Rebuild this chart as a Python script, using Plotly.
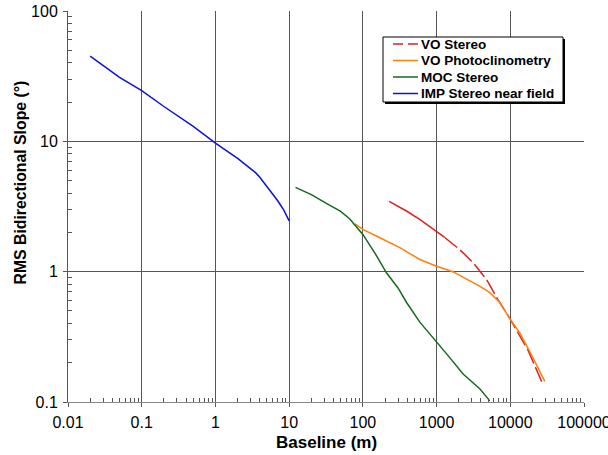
import plotly.graph_objects as go

# IMP Stereo near field
imp_x = [0.02, 0.05, 0.1, 0.2, 0.5, 1, 2, 3, 3.5, 4, 4.5, 5, 5.5, 6, 7, 8.5, 10]
imp_y = [45, 31, 24.5, 18.5, 13, 9.7, 7.4, 6.2, 5.75, 5.3, 4.85, 4.45, 4.12, 3.85, 3.5, 2.95, 2.45]

# MOC Stereo
moc_x = [12.2, 20, 32, 50, 66, 100, 150, 209, 300, 392, 593, 1000, 1500, 2290, 3880, 5270]
moc_y = [4.43, 3.9, 3.34, 2.9, 2.55, 1.93, 1.35, 0.98, 0.75, 0.58, 0.41, 0.29, 0.22, 0.164, 0.126, 0.102]

# VO Photoclinometry
vop_x = [78, 100, 170, 317, 593, 1000, 1660, 3880, 5270, 7200, 10000, 13400, 19400, 29400]
vop_y = [2.33, 2.11, 1.82, 1.53, 1.24, 1.1, 1.0, 0.77, 0.69, 0.58, 0.43, 0.34, 0.23, 0.144]

# VO Stereo (solid first part, then dashed)
vos_solid_x = [227, 390, 590, 1000, 1290]
vos_solid_y = [3.46, 2.92, 2.52, 2.04, 1.83]
vos_dash_x = [1290, 2050, 3150, 4770, 6800, 9800, 17400, 27900]
vos_dash_y = [1.83, 1.48, 1.17, 0.87, 0.61, 0.44, 0.25, 0.135]

x_tickvals = [0.01, 0.1, 1, 10, 100, 1000, 10000, 100000]
x_ticktext = ["0.01", "0.1", "1", "10", "100", "1000", "10000", "100000"]
y_tickvals = [0.1, 1, 10, 100]
y_ticktext = ["0.1", "1", "10", "100"]

x_title = "Baseline (m)"
y_title = "RMS Bidirectional Slope (°)"

legend_names = ["VO Stereo", "VO Photoclinometry", "MOC Stereo", "IMP Stereo near field"]
legend_colors = ["#e0201b", "#ff7f0e", "#17691c", "#0a12e0"]
legend_dash = ["10px,5px", "solid", "solid", "solid"]

x_minor = [m * d for d in x_tickvals[:-1] for m in range(2, 10)]
y_minor = [m * d for d in y_tickvals[:-1] for m in range(2, 10)]

RED, ORANGE, GREEN, BLUE = legend_colors
fig = go.Figure()
fig.add_trace(go.Scatter(x=vos_solid_x, y=vos_solid_y, mode="lines", name="VO Stereo",
                         line=dict(color=RED, width=1.5)))
fig.add_trace(go.Scatter(x=vos_dash_x, y=vos_dash_y, mode="lines", name="VO Stereo",
                         line=dict(color=RED, width=1.5, dash="16px,4px")))
fig.add_trace(go.Scatter(x=vop_x, y=vop_y, mode="lines", name="VO Photoclinometry",
                         line=dict(color=ORANGE, width=1.5)))
fig.add_trace(go.Scatter(x=moc_x, y=moc_y, mode="lines", name="MOC Stereo",
                         line=dict(color=GREEN, width=1.5)))
fig.add_trace(go.Scatter(x=imp_x, y=imp_y, mode="lines", name="IMP Stereo near field",
                         line=dict(color=BLUE, width=1.5)))

font_family = "Liberation Sans, Arial, sans-serif"

# page pixel -> paper coordinates (plot area spans page px x 68..584, y 11..402)
def px(x):
    return (x - 68) / 516.0

def py(y):
    return 1 - (y - 11) / 391.0

shapes = [
    dict(type="rect", xref="paper", yref="paper", layer="above",
         x0=px(385), x1=px(565), y0=py(104), y1=py(39),
         line=dict(width=0), fillcolor="black"),
    dict(type="rect", xref="paper", yref="paper", layer="above",
         x0=px(383), x1=px(563), y0=py(102), y1=py(37),
         line=dict(width=1, color="black"), fillcolor="white"),
]
annotations = []
for i, (name, col, dash) in enumerate(zip(legend_names, legend_colors, legend_dash)):
    yc = 44 + i * 16.5
    shapes.append(dict(type="line", xref="paper", yref="paper", layer="above",
                       x0=px(393), x1=px(418), y0=py(yc), y1=py(yc),
                       line=dict(color=col, width=1.5, dash=dash)))
    annotations.append(dict(xref="paper", yref="paper", x=px(419), y=py(yc),
                            xanchor="left", yanchor="middle", showarrow=False,
                            text="<b>" + name + "</b>",
                            font=dict(size=13.5, color="black", family=font_family)))

annotations.append(dict(xref="paper", yref="paper", x=px(326), y=py(442),
                        xanchor="center", yanchor="middle", showarrow=False,
                        text="<b>" + x_title + "</b>",
                        font=dict(size=17, color="black", family=font_family)))
annotations.append(dict(xref="paper", yref="paper", x=px(20), y=py(182.5),
                        xanchor="center", yanchor="middle", showarrow=False, textangle=-90,
                        text="<b>" + y_title + "</b>",
                        font=dict(size=15.8, color="black", family=font_family)))

fig.update_layout(
    width=608, height=455,
    margin=dict(l=68, r=24, t=11, b=53),
    paper_bgcolor="white", plot_bgcolor="white",
    font=dict(family=font_family, color="black", size=16),
    showlegend=False,
    shapes=shapes,
    annotations=annotations,
    xaxis=dict(type="log", range=[-2, 5], tickvals=x_tickvals, ticktext=x_ticktext,
               automargin=False, ticklabeloverflow="allow",
               showgrid=True, gridcolor="#555555", gridwidth=1,
               showline=True, linecolor="#888888", linewidth=1,
               ticks="outside", ticklen=4, tickcolor="#555555",
               tickfont=dict(size=16), zeroline=False, ticklabelstandoff=2,
               minor=dict(tickmode="array", tickvals=x_minor, ticks="inside", ticklen=4,
                          tickcolor="#555555", showgrid=False)),
    yaxis=dict(type="log", range=[-1, 2], tickvals=y_tickvals, ticktext=y_ticktext,
               automargin=False, ticklabeloverflow="allow",
               showgrid=True, gridcolor="#555555", gridwidth=1,
               showline=True, linecolor="#555555", linewidth=1,
               ticks="outside", ticklen=4, tickcolor="#555555",
               tickfont=dict(size=16), zeroline=False, ticklabelstandoff=2,
               minor=dict(tickmode="array", tickvals=y_minor, ticks="inside", ticklen=4,
                          tickcolor="#555555", showgrid=False)),
)

fig.write_html("out.html", config={"displayModeBar": False},
               post_script="document.body.style.margin='0';document.body.style.overflow='hidden';")
